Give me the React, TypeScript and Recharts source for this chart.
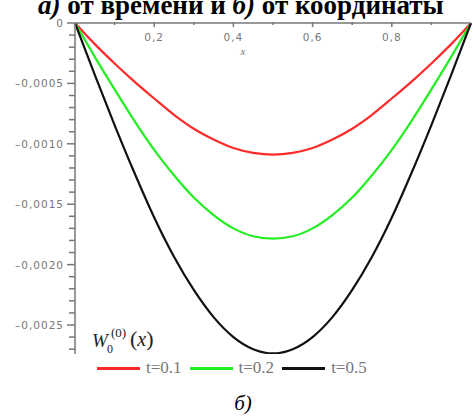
import React from "react";
import { LineChart, Line, XAxis, YAxis, Legend } from "recharts";

// x coordinate and W0(0)(x) values for three moments of time
const xs = [0, 0.05, 0.1, 0.15, 0.2, 0.25, 0.3, 0.35, 0.4, 0.45, 0.5, 0.55, 0.6, 0.65, 0.7, 0.75, 0.8, 0.85, 0.9, 0.95, 1];
const t01 = [0, -0.000175, -0.000335, -0.000485, -0.000625, -0.00076, -0.000875, -0.000965, -0.001035, -0.001075, -0.00109, -0.001075, -0.001035, -0.000965, -0.000875, -0.00076, -0.000625, -0.000485, -0.000335, -0.000175, 0];
const t02 = [0, -0.00028, -0.00055, -0.00081, -0.00105, -0.00126, -0.001445, -0.00159, -0.0017, -0.001765, -0.001785, -0.001765, -0.0017, -0.00159, -0.001445, -0.00126, -0.00105, -0.00081, -0.00055, -0.00028, 0];
const t05 = [0, -0.00043, -0.000845, -0.00124, -0.00161, -0.001935, -0.00221, -0.002435, -0.0026, -0.0027, -0.002735, -0.0027, -0.0026, -0.002435, -0.00221, -0.001935, -0.00161, -0.00124, -0.000845, -0.00043, 0];

const seriesNames = ["t=0.1", "t=0.2", "t=0.5"];
const xTicks = [0.1, 0.2, 0.3, 0.4, 0.5, 0.6, 0.7, 0.8, 0.9];
const yTicks = Array.from({ length: 28 }, (_, i) => -i * 0.0001);

const data = xs.map((x, i) => ({ x, a: t01[i], b: t02[i], c: t05[i] }));

const tickFont = "DejaVu Sans, sans-serif";
const serif = "Liberation Serif, Times New Roman, serif";
const grey = "#777";

const XTick = (props: any) => {
  const { x, y, payload } = props;
  const major = Math.round(payload.value * 10) % 2 === 0;
  return (
    <g>
      <line x1={x} x2={x} y1={y - 1} y2={y + (major ? 4 : 2)} stroke={grey} strokeWidth={1.5} />
      {major && (
        <text x={x} y={y + 18} textAnchor="middle" fontSize={10.5} letterSpacing={1} fontFamily={tickFont} fill={grey}>
          {payload.value.toFixed(1).replace(".", ",")}
        </text>
      )}
    </g>
  );
};

const YTick = (props: any) => {
  const { x, y, payload } = props;
  const n = Math.round(-payload.value * 10000);
  const major = n % 5 === 0;
  const label = n === 0 ? "0" : "–" + (-payload.value).toFixed(4).replace(".", ",");
  return (
    <g>
      <line x1={x - (major ? 8 : 6)} x2={x} y1={y} y2={y} stroke={grey} strokeWidth={1.5} />
      {major && (
        <text x={x - 11} y={y + 4} textAnchor="end" fontSize={10.5} letterSpacing={1} fontFamily={tickFont} fill={grey}>
          {label}
        </text>
      )}
    </g>
  );
};

const LegendContent = (props: any) => (
  <div style={{ display: "flex", alignItems: "center", height: 20 }}>
    {props.payload.map((p: any) => (
      <div key={p.value} style={{ display: "flex", alignItems: "center", marginRight: 8 }}>
        <div style={{ width: 43, height: 3, background: p.color, marginRight: 6 }} />
        <span style={{ fontFamily: serif, fontSize: 17, color: grey }}>{p.value}</span>
      </div>
    ))}
  </div>
);

export default function App() {
  return (
    <div style={{ position: "absolute", left: 0, top: 0, width: 473, height: 416, background: "#fff" }}>
      <LineChart width={473} height={416} data={data} margin={{ top: 3, right: 2, left: 0, bottom: 42 }}>
        <XAxis
          dataKey="x"
          type="number"
          domain={[0, 1]}
          orientation="top"
          height={20}
          ticks={xTicks}
          interval={0}
          tickSize={0}
          tickMargin={0}
          tickLine={false}
          tick={<XTick />}
          axisLine={{ stroke: grey, strokeWidth: 1.5 }}
        />
        <YAxis
          type="number"
          domain={[-0.00274, 0]}
          width={75}
          ticks={yTicks}
          interval={0}
          tickSize={0}
          tickMargin={0}
          tickLine={false}
          tick={<YTick />}
          axisLine={{ stroke: grey, strokeWidth: 1.5 }}
          allowDataOverflow
        />
        <Legend
          content={<LegendContent />}
          wrapperStyle={{ position: "absolute", left: 97, top: 358, width: 320, height: 20 }}
        />
        <Line dataKey="a" name={seriesNames[0]} stroke="#ff2a2a" strokeWidth={2.2} dot={false} type="monotone" isAnimationActive={false} />
        <Line dataKey="b" name={seriesNames[1]} stroke="#22ee22" strokeWidth={2.2} dot={false} type="monotone" isAnimationActive={false} />
        <Line dataKey="c" name={seriesNames[2]} stroke="#111111" strokeWidth={2.2} dot={false} type="monotone" isAnimationActive={false} />
      </LineChart>
      <svg width={473} height={416} style={{ position: "absolute", left: 0, top: 0, pointerEvents: "none" }}>
        <text x={38} y={14} fontFamily={serif} fontWeight="bold" fontSize={27}>
          <tspan fontStyle="italic">а)</tspan> от времени и <tspan fontStyle="italic">б)</tspan> от координаты
        </text>
        <text x={243} y={55} textAnchor="middle" fontFamily={serif} fontStyle="italic" fontSize={11} fill={grey}>
          x
        </text>
        <text fontFamily={serif} fill="#222">
          <tspan x={92} y={347} fontSize={19} fontStyle="italic">W</tspan>
          <tspan x={107} y={353} fontSize={12}>0</tspan>
          <tspan x={111} y={337} fontSize={13}>(0)</tspan>
          <tspan x={130} y={346} fontSize={22}>(</tspan>
          <tspan fontSize={20} fontStyle="italic">x</tspan>
          <tspan fontSize={22}>)</tspan>
        </text>
        <text x={243} y={410} textAnchor="middle" fontFamily={serif} fontStyle="italic" fontSize={21}>
          б)
        </text>
      </svg>
    </div>
  );
}
